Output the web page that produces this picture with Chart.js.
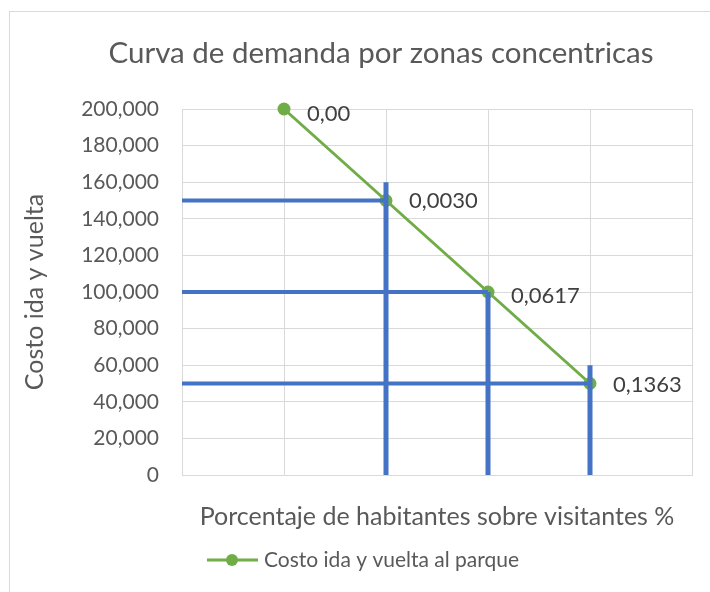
<!DOCTYPE html>
<html>
<head>
<meta charset="utf-8">
<script src="https://cdn.jsdelivr.net/npm/chart.js@4.4.0/dist/chart.umd.min.js"></script>
<style>
  html, body { margin: 0; padding: 0; background: #fff; }
  #marco { position: absolute; left: 9px; top: 11px; width: 720px; height: 600px; border: 1px solid #d9d9d9; }
  #wrap { position: absolute; left: 0; top: 0; width: 710px; height: 592px; }
</style>
</head>
<body>
<div id="marco"></div>
<div id="wrap"><canvas id="grafico"></canvas></div>
<script>
// datos de la curva
const zonas = [1, 2, 3, 4];
const costos = [200000, 150000, 100000, 50000];
const etiquetas = ["0,00", "0,0030", "0,0617", "0,1363"];
// lineas guia azules (posicion x, nivel horizontal, tope de la vertical)
const guiaX = [2, 3, 4];
const guiaY = [150000, 100000, 50000];
const guiaTope = [160000, 100000, 60000];
const ticksY = [0, 20000, 40000, 60000, 80000, 100000, 120000, 140000, 160000, 180000, 200000];
const titulo = 'Curva de demanda por zonas concentricas';

const gris = '#595959';
const rejilla = '#d9d9d9';
const verde = '#70AD47';
const azul = '#4472C4';
const fuente = 'Lato, "Open Sans", sans-serif';

const guias = [];
guiaX.forEach((gx, i) => {
  guias.push({
    data: [{x: 0, y: guiaY[i]}, {x: gx, y: guiaY[i]}],
    borderColor: azul, borderWidth: 4, pointRadius: 0, order: 0
  });
  guias.push({
    data: [{x: gx, y: guiaTope[i]}, {x: gx, y: 0}],
    borderColor: azul, borderWidth: 5, pointRadius: 0, order: 0
  });
});

// desplazamiento vertical de cada etiqueta
const ajusteEtiqueta = [5, 0, 4, 1];

const etiquetasPlugin = {
  id: 'etiquetas',
  afterDatasetsDraw(chart) {
    const ctx = chart.ctx;
    const meta = chart.getDatasetMeta(0);
    ctx.save();
    ctx.font = '22px ' + fuente;
    ctx.fillStyle = '#404040';
    ctx.textAlign = 'left';
    ctx.textBaseline = 'middle';
    meta.data.forEach((p, i) => {
      ctx.fillText(etiquetas[i], p.x + 23, p.y + ajusteEtiqueta[i]);
    });
    ctx.restore();
  }
};

// titulo y leyenda a mano, para dejarlos donde estan en la imagen
const tituloLeyendaPlugin = {
  id: 'tituloLeyenda',
  afterDraw(chart) {
    const ctx = chart.ctx;
    const ds = chart.data.datasets[0];
    ctx.save();
    ctx.font = '29.5px ' + fuente;
    ctx.fillStyle = gris;
    ctx.textAlign = 'center';
    ctx.textBaseline = 'middle';
    ctx.fillText(titulo, 381, 53);

    const y = 560;
    ctx.strokeStyle = verde;
    ctx.lineWidth = 3;
    ctx.beginPath();
    ctx.moveTo(207, y);
    ctx.lineTo(258, y);
    ctx.stroke();
    ctx.fillStyle = verde;
    ctx.beginPath();
    ctx.arc(232, y, 6, 0, Math.PI * 2);
    ctx.fill();
    ctx.font = '21px ' + fuente;
    ctx.fillStyle = gris;
    ctx.textAlign = 'left';
    ctx.fillText(ds.label, 264, y);
    ctx.restore();
  }
};

const grafico = new Chart(document.getElementById('grafico'), {
  type: 'line',
  data: {
    datasets: [
      {
        label: 'Costo ida y vuelta al parque',
        data: zonas.map((z, i) => ({x: z, y: costos[i]})),
        borderColor: verde,
        backgroundColor: verde,
        borderWidth: 3,
        pointRadius: 6.5,
        pointBorderWidth: 0,
        clip: false,
        order: 1
      },
      ...guias
    ]
  },
  options: {
    responsive: true,
    maintainAspectRatio: false,
    animation: false,
    layout: { padding: { top: 109, right: 18 } },
    plugins: {
      legend: { display: false },
      tooltip: { enabled: false },
      title: { display: false }
    },
    scales: {
      x: {
        type: 'linear',
        min: 0,
        max: 5,
        ticks: { display: false, stepSize: 1 },
        grid: { color: rejilla, drawTicks: false },
        border: { color: rejilla },
        title: {
          display: true,
          text: 'Porcentaje de habitantes sobre visitantes %',
          color: gris,
          font: { family: fuente, size: 25 },
          padding: { top: 0, bottom: 60 }
        },
        afterFit: s => { s.height = 117; }
      },
      y: {
        min: 0,
        max: 200000,
        afterBuildTicks: s => { s.ticks = ticksY.map(v => ({value: v})); },
        ticks: {
          color: gris,
          padding: 23,
          font: { family: fuente, size: 21 },
          callback: v => v.toLocaleString('en-US')
        },
        grid: { color: rejilla, drawTicks: false },
        border: { color: rejilla },
        title: {
          display: true,
          text: 'Costo ida y vuelta',
          color: gris,
          font: { family: fuente, size: 25 },
          padding: { top: 20 }
        },
        afterFit: s => { s.width = 182; }
      }
    }
  },
  plugins: [etiquetasPlugin, tituloLeyendaPlugin]
});
</script>
</body>
</html>
